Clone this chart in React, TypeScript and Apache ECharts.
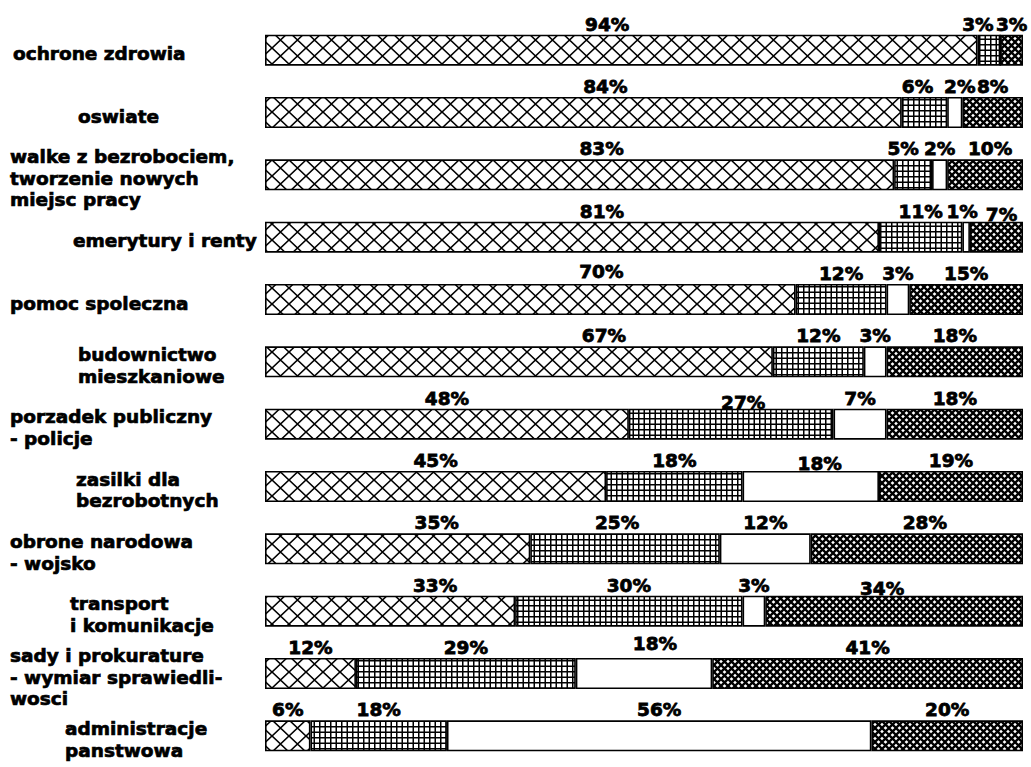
import React, { useEffect, useRef } from 'react';
import * as echarts from 'echarts';

const categories = [
  'ochrone zdrowia',
  'oswiate',
  'walke z bezrobociem,\ntworzenie nowych\nmiejsc pracy',
  'emerytury i renty',
  'pomoc spoleczna',
  'budownictwo\nmieszkaniowe',
  'porzadek publiczny\n- policje',
  'zasilki dla\nbezrobotnych',
  'obrone narodowa\n- wojsko',
  'transport\ni komunikacje',
  'sady i prokurature\n- wymiar sprawiedli-\nwosci',
  'administracje\npanstwowa',
];
const seriesA = [94, 84, 83, 81, 70, 67, 48, 45, 35, 33, 12, 6];
const seriesB = [3, 6, 5, 11, 12, 12, 27, 18, 25, 30, 29, 18];
const seriesC = [0, 2, 2, 1, 3, 3, 7, 18, 12, 3, 18, 56];
const seriesD = [3, 8, 10, 7, 15, 18, 18, 19, 28, 34, 41, 20];

// label layout tweaks (style only): left indent of category labels, value-label nudges
const labelIndent = [3, 68, 0, 63, 0, 68, 0, 66, 0, 60, 0, 55];
const labelNudge: Record<string, number[]> = {
  '0-0': [-14, 0], '0-1': [22, 0], '0-2': [22, 0], '0-3': [30, 0], '0-4': [71, -2],
  '0-5': [85, 0], '0-8': [39, 0], '0-9': [45, 0],
  '1-0': [-11, 0], '1-1': [-7, 0], '1-2': [-10, 0], '1-6': [12, 4], '1-8': [-8, 0],
  '2-3': [-4, 0], '2-7': [9, 3], '2-10': [11, -4], '2-1': [5, 0],
  '3-3': [5, 3], '3-9': [-12, 3], '3-8': [8, 0], '3-2': [5, 0],
};

const FONT = '"DejaVu Sans", sans-serif';

function tile(w: number, h: number, draw: (ctx: CanvasRenderingContext2D) => void) {
  const c = document.createElement('canvas');
  c.width = w;
  c.height = h;
  const ctx = c.getContext('2d') as CanvasRenderingContext2D;
  ctx.fillStyle = '#fff';
  ctx.fillRect(0, 0, w, h);
  ctx.strokeStyle = '#000';
  ctx.fillStyle = '#000';
  draw(ctx);
  return { image: c.toDataURL(), repeat: 'repeat', imageWidth: w, imageHeight: h } as any;
}

export default function App() {
  const ref = useRef<HTMLDivElement>(null);
  useEffect(() => {
    if (!ref.current) return;
    const chart = echarts.init(ref.current, null, { renderer: 'svg' });

    const diamond = tile(17, 16, (ctx) => {
      ctx.lineWidth = 1.6;
      ctx.beginPath();
      ctx.moveTo(0, 0); ctx.lineTo(17, 16);
      ctx.moveTo(17, 0); ctx.lineTo(0, 16);
      ctx.stroke();
    });
    const grid = tile(11, 11, (ctx) => {
      ctx.fillRect(0, 0, 1.5, 11);
      ctx.fillRect(5.5, 0, 1.5, 11);
      ctx.fillRect(0, 0, 11, 1.5);
      ctx.fillRect(0, 5.5, 11, 1.5);
    });
    const dense = tile(7, 7, (ctx) => {
      ctx.lineWidth = 2.3;
      ctx.beginPath();
      ctx.moveTo(0, 0); ctx.lineTo(7, 7);
      ctx.moveTo(7, 0); ctx.lineTo(0, 7);
      ctx.stroke();
    });

    const fills = [diamond, grid, '#ffffff', dense];
    const all = [seriesA, seriesB, seriesC, seriesD];

    const series = all.map((vals, si) => ({
      type: 'bar',
      stack: 'total',
      barWidth: 31,
      itemStyle: { color: fills[si], borderColor: '#000', borderWidth: 1.6 },
      label: {
        show: true,
        position: 'top',
        distance: 1,
        color: '#000',
        fontFamily: FONT,
        fontWeight: 'bold',
        fontSize: 18.5,
        textBorderColor: '#000',
        textBorderWidth: 0.8,
        formatter: (p: any) => (p.value ? `${p.value}%` : ''),
      },
      data: vals.map((v, i) => {
        const n = labelNudge[`${si}-${i}`];
        return n ? { value: v, label: { offset: n } } : { value: v };
      }),
    }));

    const rich: Record<string, any> = {};
    categories.forEach((_, i) => {
      rich[`r${i}`] = {
        fontFamily: FONT,
        fontWeight: 'bold',
        fontSize: 18.5,
        lineHeight: 21.5,
        color: '#000',
        textBorderColor: '#000',
        textBorderWidth: 0.7,
        padding: [0, 0, 0, labelIndent[i]],
      };
    });

    chart.setOption({
      animation: false,
      backgroundColor: '#fff',
      grid: { left: 265, right: 8, top: 19, height: 753, containLabel: false },
      xAxis: { type: 'value', min: 0, max: 100, show: false },
      yAxis: {
        type: 'category',
        inverse: true,
        data: categories,
        axisLine: { show: false },
        axisTick: { show: false },
        splitLine: { show: false },
        axisLabel: {
          interval: 0,
          align: 'left',
          verticalAlign: 'middle',
          margin: 255,
          padding: [7, 0, 0, 0],
          formatter: (v: string, i: number) =>
            v.split('\n').map((l) => `{r${i}|${l}}`).join('\n'),
          rich,
        },
      },
      series,
    } as any);

    return () => chart.dispose();
  }, []);

  return (
    <div
      ref={ref}
      style={{ position: 'absolute', left: 0, top: 0, width: 1031, height: 767, background: '#fff' }}
    />
  );
}
